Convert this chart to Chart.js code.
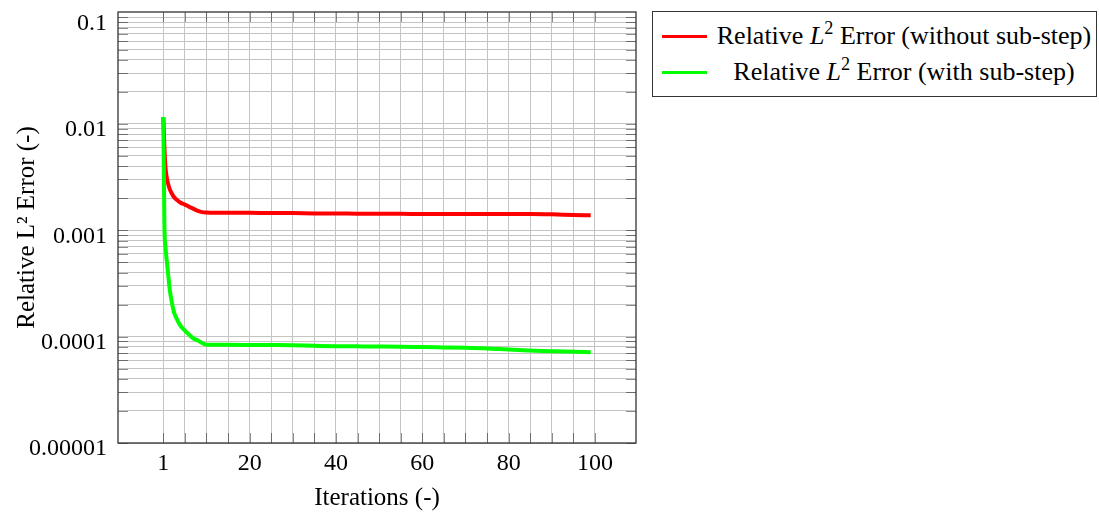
<!DOCTYPE html>
<html>
<head>
<meta charset="utf-8">
<script src="https://cdn.jsdelivr.net/npm/chart.js@4.4.1/dist/chart.umd.min.js"></script>
<style>
  html, body { margin: 0; padding: 0; background: #fff; }
  #wrap { position: relative; width: 1099px; height: 513px; }
  #legend {
    position: absolute; left: 652px; top: 11px; width: 443px;
    border: 1px solid #333; padding: 6px 0; background: #fff;
    font-family: 'Liberation Serif', 'Times New Roman', serif; font-size: 26px; color: #000;
  }
  #legend .row { display: flex; align-items: center; height: 36px; }
  #legend .swatch { width: 45px; height: 3px; margin-left: 9px; flex: none; }
  #legend .txt { flex: 1; text-align: center; white-space: nowrap; margin-left: 5px; line-height: 36px; }
  #legend sup { font-size: 0.7em; line-height: 0; vertical-align: 0.55em; }
</style>
</head>
<body>
<div id="wrap"><canvas id="errChart"></canvas><div id="legend"></div></div>
<script>
// values
const iterations = [0, 0.25, 0.5, 0.75, 1, 1.5, 2, 2.5, 3, 4, 5, 6, 7, 8, 9, 10,
  15, 20, 25, 30, 35, 40, 45, 50, 55, 60, 65, 70, 75, 80, 85, 90, 95, 99];
const errWithoutSubstep = [0.0116, 0.0060, 0.0039, 0.0032, 0.00285, 0.00242, 0.00220, 0.00204,
  0.00195, 0.00181, 0.00174, 0.00166, 0.00159, 0.00152, 0.00148, 0.00147,
  0.00146, 0.00146, 0.00145, 0.00145, 0.00144, 0.00144, 0.00143, 0.00143, 0.00143,
  0.00142, 0.00142, 0.00142, 0.00142, 0.00142, 0.00142, 0.00141, 0.00139, 0.00138];
const errWithSubstep = [0.0116, 0.0011, 0.00070, 0.00054, 0.00043, 0.000275, 0.000208, 0.000168,
  0.000150, 0.000126, 0.000114, 0.000104, 0.000096, 0.000092, 0.000087, 0.000084,
  0.0000837, 0.0000835, 0.0000833, 0.000083, 0.000082, 0.0000812, 0.000081, 0.0000808, 0.0000805,
  0.0000798, 0.0000792, 0.0000786, 0.0000775, 0.0000755, 0.000074, 0.0000727, 0.000072, 0.0000713];

const seriesLabels = ["Relative L\u00B2 Error (without sub-step)", "Relative L\u00B2 Error (with sub-step)"];
const xGridValues = [0, 5, 10, 15, 20, 25, 30, 35, 40, 45, 50, 55, 60, 65, 70, 75, 80, 85, 90, 95, 100];
const xTickValues = [0, 20, 40, 60, 80, 100];
const xTickLabels = ["1", "20", "40", "60", "80", "100"];
const yTickValues = [0.00001, 0.0001, 0.001, 0.01, 0.1];
const yTickLabels = ["0.00001", "0.0001", "0.001", "0.01", "0.1"];

const serif = "'Liberation Serif', 'Times New Roman', serif";

// log grid: 1..9 in every decade
const yGridValues = [];
for (let e = -5; e < -1; e++) {
    for (let k = 1; k < 10; k++) yGridValues.push(k * Math.pow(10, e));
}
yGridValues.push(0.1);

function toPoints(ys) {
    return iterations.map((x, i) => ({ x: x, y: ys[i] }));
}

// box round the plot and the short inner tick marks
const framePlugin = {
    id: "frame",
    beforeDatasetsDraw(chart) {
        const { ctx, chartArea: a, scales } = chart;
        ctx.save();
        ctx.strokeStyle = "rgba(0,0,0,0.45)";
        ctx.lineWidth = 1;
        ctx.beginPath();
        scales.x.ticks.forEach(t => {
            const px = Math.round(scales.x.getPixelForValue(t.value)) + 0.5;
            ctx.moveTo(px, a.bottom); ctx.lineTo(px, a.bottom - 10);
            ctx.moveTo(px, a.top); ctx.lineTo(px, a.top + 10);
        });
        scales.y.ticks.forEach(t => {
            const py = Math.round(scales.y.getPixelForValue(t.value)) + 0.5;
            ctx.moveTo(a.left, py); ctx.lineTo(a.left + 10, py);
            ctx.moveTo(a.right, py); ctx.lineTo(a.right - 10, py);
        });
        ctx.stroke();
        ctx.strokeStyle = "#333";
        ctx.lineWidth = 1.3;
        ctx.strokeRect(a.left, a.top, a.width, a.height);
        ctx.restore();
    }
};

// legend as html, so the L can be italic and the 2 raised
const htmlLegendPlugin = {
    id: "htmlLegend",
    afterUpdate(chart) {
        const box = document.getElementById("legend");
        box.innerHTML = "";
        const items = Chart.defaults.plugins.legend.labels.generateLabels(chart);
        items.sort((a, b) => a.datasetIndex - b.datasetIndex);
        items.forEach(item => {
            const row = document.createElement("div");
            row.className = "row";
            const sw = document.createElement("span");
            sw.className = "swatch";
            sw.style.background = item.strokeStyle;
            const txt = document.createElement("span");
            txt.className = "txt";
            txt.innerHTML = item.text.replace("L\u00B2", "<i>L</i><sup>2</sup>");
            row.appendChild(sw);
            row.appendChild(txt);
            box.appendChild(row);
        });
    }
};

Chart.defaults.font.family = serif;
Chart.defaults.color = "#000";

new Chart(document.getElementById("errChart"), {
    type: "line",
    data: {
        datasets: [{
            label: seriesLabels[0],
            data: toPoints(errWithoutSubstep),
            borderColor: "#ff0000",
            backgroundColor: "#ff0000",
            borderWidth: 4,
            pointRadius: 0,
            cubicInterpolationMode: "monotone",
            order: 2
        }, {
            label: seriesLabels[1],
            data: toPoints(errWithSubstep),
            borderColor: "#00ff00",
            backgroundColor: "#00ff00",
            borderWidth: 4,
            pointRadius: 0,
            cubicInterpolationMode: "monotone",
            order: 1
        }]
    },
    options: {
        responsive: true,
        maintainAspectRatio: false,
        animation: false,
        events: [],
        layout: { padding: { left: 0, top: 12, right: 463, bottom: 0 } },
        scales: {
            x: {
                type: "linear",
                min: -10.5,
                max: 109.5,
                grid: { color: "#c4c4c4", lineWidth: 1, drawTicks: false },
                border: { display: false },
                afterBuildTicks: s => { s.ticks = xGridValues.map(v => ({ value: v })); },
                afterFit: s => { s.height = 70; s.paddingLeft = 0; s.paddingRight = 0; },
                ticks: {
                    autoSkip: false,
                    maxRotation: 0,
                    padding: 6,
                    font: { size: 24, family: serif },
                    callback: v => {
                        const i = xTickValues.indexOf(v);
                        return i >= 0 ? xTickLabels[i] : "";
                    }
                },
                title: {
                    display: true,
                    text: "Iterations (-)",
                    font: { size: 25, family: serif, lineHeight: 1.2 },
                    padding: { top: 0, bottom: 0 }
                }
            },
            y: {
                type: "logarithmic",
                min: 0.00001,
                max: 0.1126,
                grid: { color: "#c4c4c4", lineWidth: 1, drawTicks: false },
                border: { display: false },
                afterBuildTicks: s => { s.ticks = yGridValues.map(v => ({ value: v })); },
                afterFit: s => { s.width = 118; s.paddingTop = 0; s.paddingBottom = 0; },
                ticks: {
                    autoSkip: false,
                    padding: 11,
                    labelOffset: 6,
                    font: { size: 24, family: serif },
                    callback: v => {
                        const i = yTickValues.findIndex(t => Math.abs(Math.log10(t) - Math.log10(v)) < 1e-6);
                        return i >= 0 ? yTickLabels[i] : "";
                    }
                },
                title: {
                    display: true,
                    text: "Relative L\u00B2 Error (-)",
                    font: { size: 25, family: serif, lineHeight: 1.2 },
                    padding: { top: 12, bottom: 0 }
                }
            }
        },
        plugins: {
            tooltip: { enabled: false },
            legend: { display: false }
        }
    },
    plugins: [framePlugin, htmlLegendPlugin]
});
</script>
</body>
</html>
